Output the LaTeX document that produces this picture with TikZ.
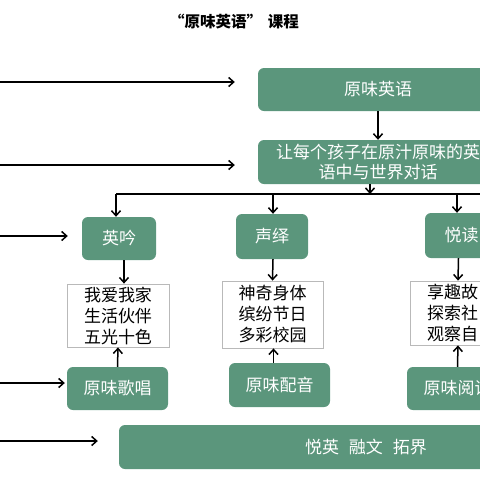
\documentclass[tikz,border=0pt]{standalone}
\usepackage{fontspec}
\setmainfont{Noto Sans CJK SC}
\usetikzlibrary{arrows.meta}
\definecolor{kegreen}{RGB}{91,150,124}
\tikzset{
  gbox/.style={fill=kegreen, rounded corners=6pt, text=white, inner sep=0pt, align=center, font=\fontsize{17}{20}\selectfont},
  lbox/.style={draw=gray!55, line width=0.8pt, fill=white, inner sep=0pt, align=center, font=\fontsize{17}{21}\selectfont},
  arr/.style={-{Straight Barb[length=5pt,width=9pt]}, line width=1.5pt},
}

\begin{document}
\begin{tikzpicture}[x=1pt,y=-1pt]
\path[use as bounding box] (0,0) rectangle (480,480);
\clip (0,0) rectangle (480,480);
\node[font=\bfseries\fontsize{15.5}{18}\selectfont] (title) at (234,22) {“原味英语”\hspace{6pt}课程};
\node[gbox, minimum width=240pt, minimum height=43pt] (yuanwei) at (378,89.5) {原味英语};
\node[gbox, minimum width=240pt, minimum height=44pt] (goal) at (378,162) {让每个孩子在原汁原味的英\\语中与世界对话};
\node[gbox, minimum width=74pt, minimum height=43pt] (yingyin) at (119,238.5) {英吟};
\node[gbox, minimum width=72pt, minimum height=45pt] (shengyi) at (272,236.5) {声绎};
\node[gbox, minimum width=73pt, minimum height=45pt] (yuedu) at (461.5,235.5) {悦读};
\node[lbox, minimum width=102pt, minimum height=63pt] (listA) at (118,315.5) {我爱我家\\生活伙伴\\五光十色};
\node[lbox, minimum width=101pt, minimum height=67pt] (listB) at (272.5,314.5) {神奇身体\\缤纷节日\\多彩校园};
\node[lbox, minimum width=102pt, minimum height=64pt, text width=68pt, align=left] (listC) at (461,313) {享趣故\\探索社\\观察自};
\node[gbox, minimum width=101pt, minimum height=43pt] (gechang) at (117.5,388.5) {原味歌唱};
\node[gbox, minimum width=101pt, minimum height=44pt] (peiyin) at (279.5,385) {原味配音};
\node[gbox, minimum width=101pt, minimum height=43pt] (yuedub) at (457.5,388.5) {原味阅读};
\node[gbox, minimum width=494pt, minimum height=44pt] (goals) at (366,447) {悦英\hspace{10pt}融文\hspace{10pt}拓界};

\coordinate (split) at (370,194);
\coordinate (hl) at (116,194);
\coordinate (hm) at (273,194);
\coordinate (hr) at (457,194);
\coordinate (hend) at (490,194);
\draw[arr] (yuanwei) -- (goal);
\draw[arr] (goal.south -| split) -- (split);
\draw[line width=1.5pt] (hl) -- (hend);
\draw[arr] (hl) -- (hl |- yingyin.north);
\draw[arr] (hm) -- (hm |- shengyi.north);
\draw[arr] (hr) -- (hr |- yuedu.north);

\draw[arr] ([xshift=5pt]yingyin.south) -- ([xshift=6pt]listA.north);
\draw[arr] ([xshift=1pt]shengyi.south) -- (listB.north);
\draw[arr] ([xshift=-3pt]yuedu.south) -- ([xshift=-3pt]listC.north);
\draw[arr] (gechang.north) -- (listA.south);
\draw[arr] ([xshift=-6pt]peiyin.north) -- ([xshift=1pt]listB.south);
\draw[arr] (yuedub.north) -- ([xshift=-3pt]listC.south);

\coordinate (in1) at (0,82);
\coordinate (in2) at (0,165);
\coordinate (in3) at (0,236);
\coordinate (in4) at (0,383);
\coordinate (in5) at (0,441);
\draw[arr] (in1) -- ([xshift=-23pt]yuanwei.west |- in1);
\draw[arr] (in2) -- ([xshift=-23pt]goal.west |- in2);
\draw[arr] (in3) -- ([xshift=-14pt]yingyin.west |- in3);
\draw[arr] (in4) -- ([xshift=-2pt]gechang.west |- in4);
\draw[arr] (in5) -- ([xshift=-21pt]goals.west |- in5);
\end{tikzpicture}
\end{document}
